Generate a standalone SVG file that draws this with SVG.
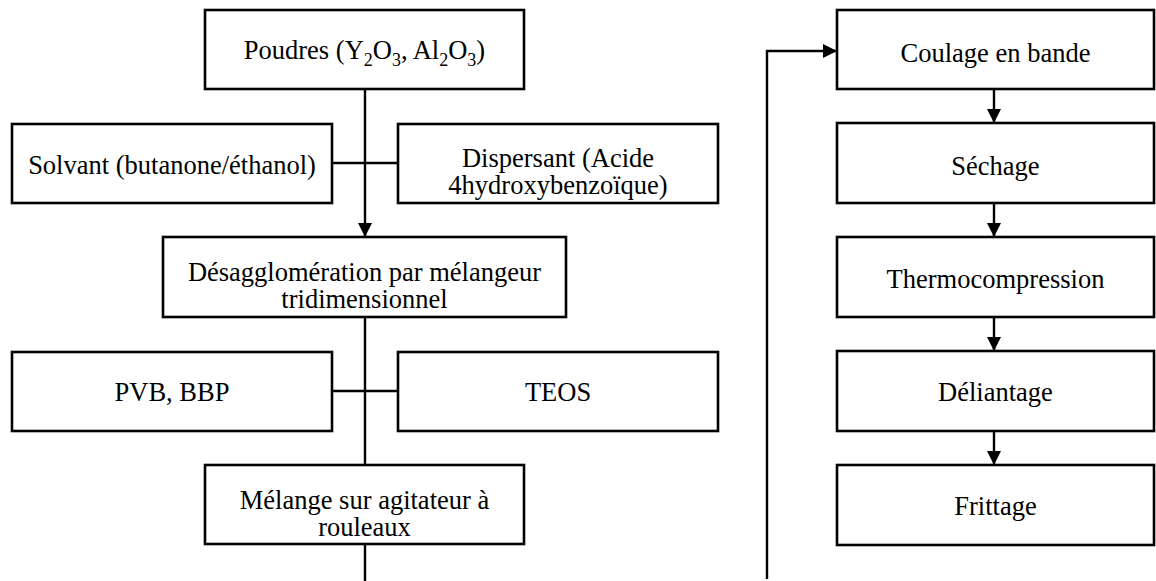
<svg xmlns="http://www.w3.org/2000/svg" width="1156" height="581" viewBox="0 0 1156 581">
<defs>
<style>
.box{fill:#fff;stroke:#000;stroke-width:2.6}
.ln{fill:none;stroke:#000;stroke-width:2.4}
text{font-family:"Liberation Serif","Times New Roman",serif;font-size:26.5px;fill:#000;text-anchor:middle}
.sub{font-size:18px}
</style>
<marker id="ah" viewBox="0 0 14 14" refX="14" refY="7" markerWidth="14" markerHeight="14" orient="auto" markerUnits="userSpaceOnUse">
<path d="M0,0 L14,7 L0,14 z" fill="#000"/>
</marker>
</defs>
<rect width="1156" height="581" fill="#fff"/>
<g id="connectors">
<line class="ln" x1="365" y1="89" x2="365" y2="237" marker-end="url(#ah)"/>
<line class="ln" x1="332" y1="163" x2="398" y2="163"/>
<line class="ln" x1="365" y1="317" x2="365" y2="465"/>
<line class="ln" x1="332" y1="391" x2="398" y2="391"/>
<line class="ln" x1="365" y1="545" x2="365" y2="581"/>
<polyline class="ln" points="767,579 767,51 837,51" marker-end="url(#ah)"/>
<line class="ln" x1="994" y1="89" x2="994" y2="123" marker-end="url(#ah)"/>
<line class="ln" x1="994" y1="203" x2="994" y2="237" marker-end="url(#ah)"/>
<line class="ln" x1="994" y1="317" x2="994" y2="351" marker-end="url(#ah)"/>
<line class="ln" x1="994" y1="431" x2="994" y2="465" marker-end="url(#ah)"/>
</g>
<g id="poudres">
<rect class="box" x="205" y="10" width="319" height="79"/>
<text x="364.5" y="59">Poudres (Y<tspan class="sub" dy="7">2</tspan><tspan dy="-7">O</tspan><tspan class="sub" dy="7">3</tspan><tspan dy="-7">, Al</tspan><tspan class="sub" dy="7">2</tspan><tspan dy="-7">O</tspan><tspan class="sub" dy="7">3</tspan><tspan dy="-7">)</tspan></text>
</g>
<g id="solvant">
<rect class="box" x="12" y="124" width="320" height="79"/>
<text x="172" y="174">Solvant (butanone/éthanol)</text>
</g>
<g id="dispersant">
<rect class="box" x="398" y="124" width="320" height="79"/>
<text x="558" y="167">Dispersant (Acide</text>
<text x="558" y="194">4hydroxybenzoïque)</text>
</g>
<g id="desagglomeration">
<rect class="box" x="163" y="237" width="403" height="80"/>
<text x="364.5" y="281">Désagglomération par mélangeur</text>
<text x="364.5" y="308">tridimensionnel</text>
</g>
<g id="pvb">
<rect class="box" x="12" y="352" width="320" height="79"/>
<text x="172" y="401">PVB, BBP</text>
</g>
<g id="teos">
<rect class="box" x="398" y="352" width="320" height="79"/>
<text x="558" y="401">TEOS</text>
</g>
<g id="melange">
<rect class="box" x="205" y="465" width="319" height="79"/>
<text x="364.5" y="509">Mélange sur agitateur à</text>
<text x="364.5" y="536">rouleaux</text>
</g>
<g id="coulage">
<rect class="box" x="837" y="10" width="317" height="79"/>
<text x="995.5" y="62">Coulage en bande</text>
</g>
<g id="sechage">
<rect class="box" x="837" y="123" width="317" height="80"/>
<text x="995.5" y="175">Séchage</text>
</g>
<g id="thermocompression">
<rect class="box" x="837" y="237" width="317" height="80"/>
<text x="995.5" y="288">Thermocompression</text>
</g>
<g id="deliantage">
<rect class="box" x="837" y="351" width="317" height="80"/>
<text x="995.5" y="401">Déliantage</text>
</g>
<g id="frittage">
<rect class="box" x="837" y="465" width="317" height="80"/>
<text x="995.5" y="515">Frittage</text>
</g>
</svg>
